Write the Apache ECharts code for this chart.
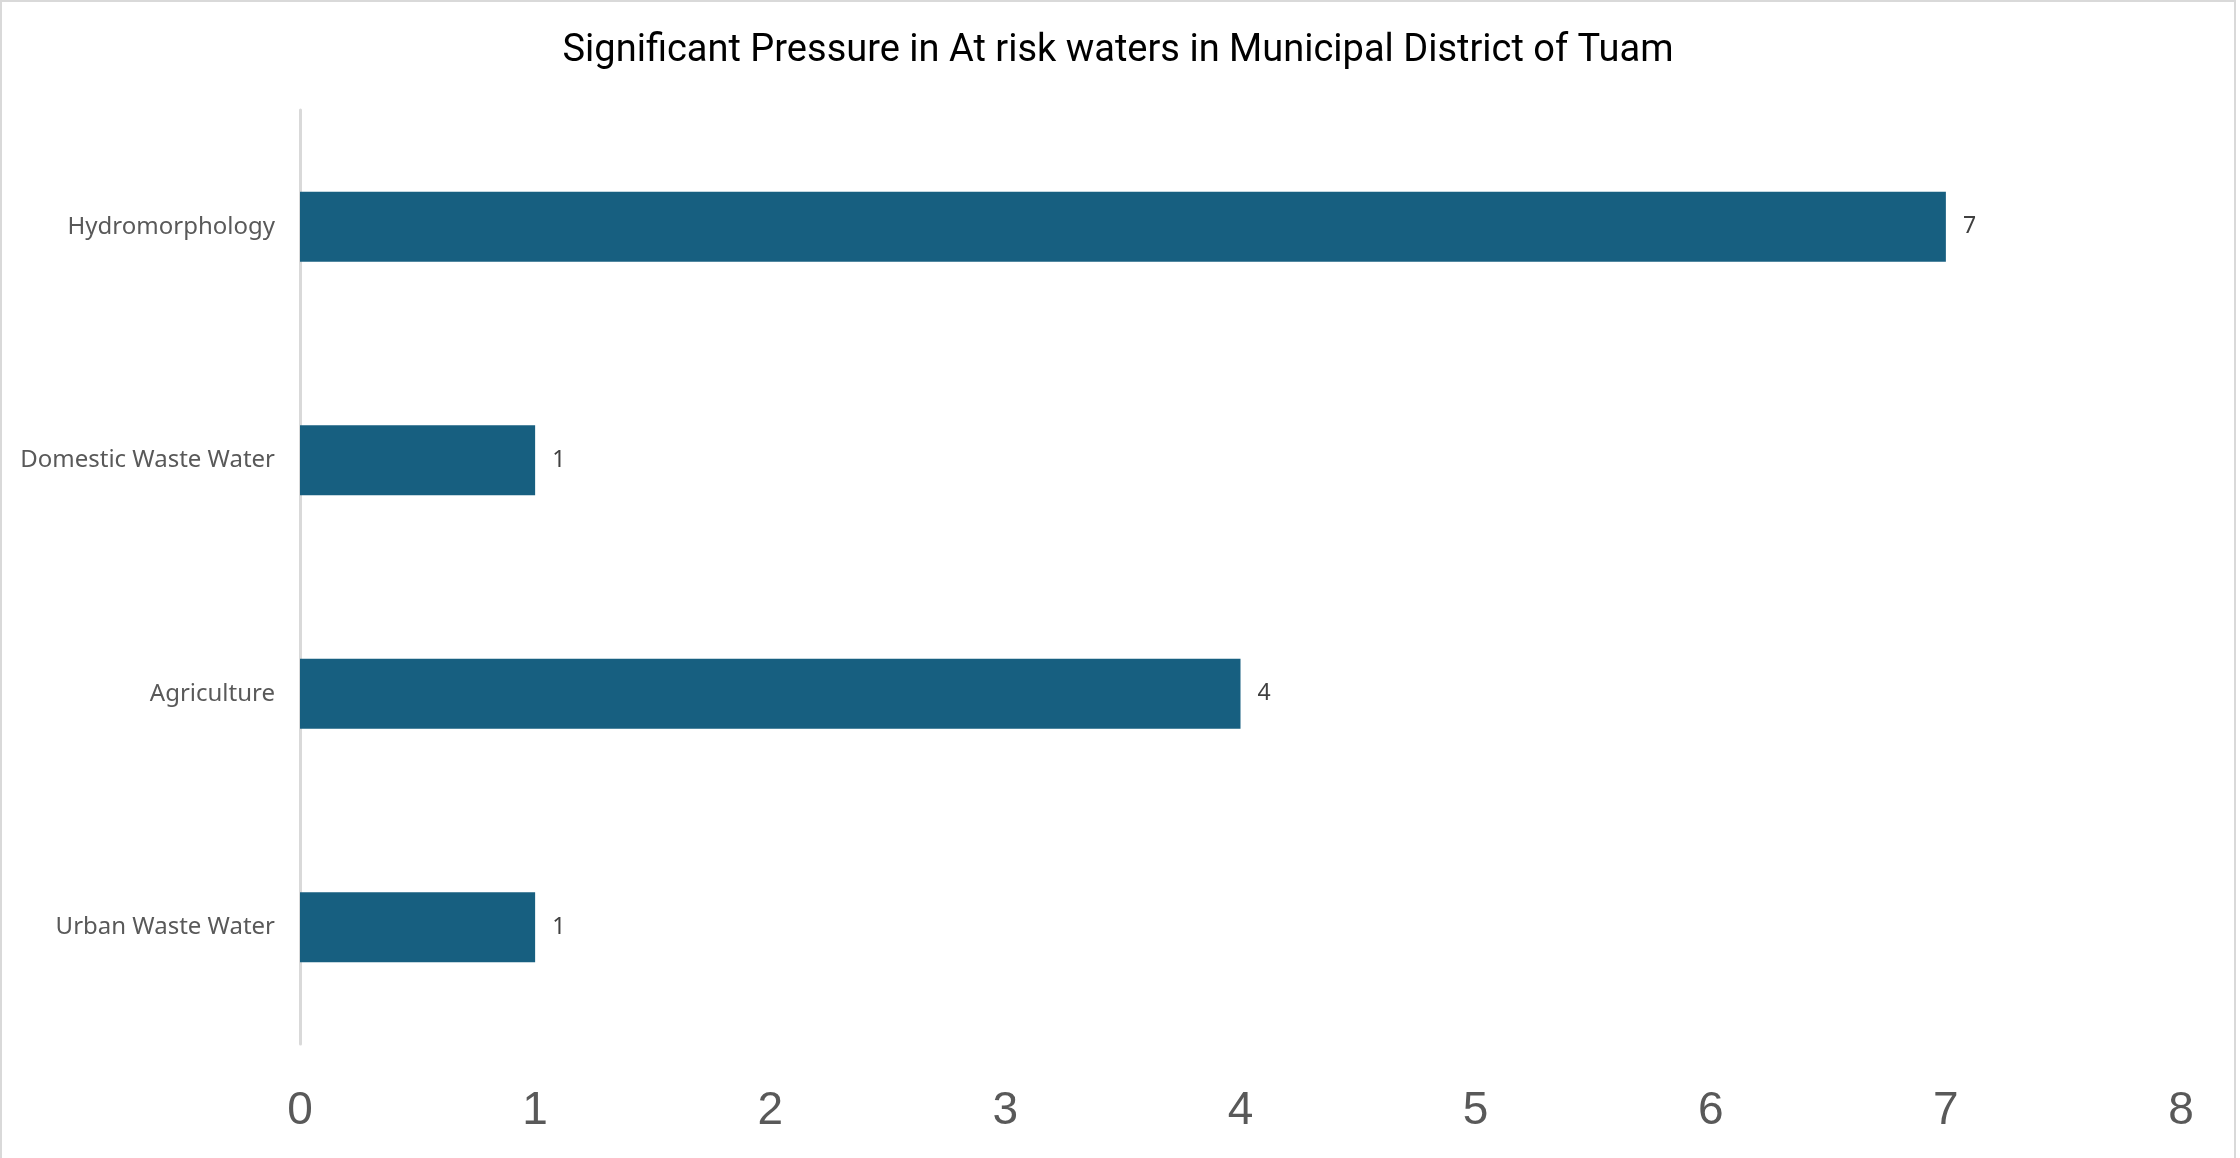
<!DOCTYPE html>
<html>
<head>
<meta charset="utf-8">
<script src="https://cdn.jsdelivr.net/npm/echarts@6/dist/echarts.min.js"></script>
<style>
  html, body { margin: 0; padding: 0; background: #fff; }
  #chart {
    width: 2236px;
    height: 1158px;
    box-sizing: border-box;
    border: 2px solid #d9d9d9;
    border-bottom: none;
  }
</style>
</head>
<body>
<div id="chart"></div>
<script>
// categories listed bottom -> top (category y axis starts at the bottom)
var categories = ["Urban Waste Water", "Agriculture", "Domestic Waste Water", "Hydromorphology"];
var pressureCounts = [1, 4, 1, 7];
var xTicks = [0, 1, 2, 3, 4, 5, 6, 7, 8];

var chart = echarts.init(document.getElementById("chart"));
var option = {
  animation: false,
  title: {
    text: "Significant Pressure in At risk waters in Municipal District of Tuam",
    left: "center",
    top: 25,
    textStyle: {
      fontFamily: "Roboto, sans-serif",
      fontWeight: "normal",
      fontSize: 38,
      color: "#000"
    }
  },
  grid: {
    left: 298,
    right: 53,
    top: 108,
    bottom: 114,
    containLabel: false
  },
  xAxis: {
    type: "value",
    min: xTicks[0],
    max: xTicks[xTicks.length - 1],
    interval: 1,
    axisLine: { show: false },
    axisTick: { show: false },
    splitLine: { show: false },
    axisLabel: {
      color: "#595959",
      fontFamily: "'Liberation Sans', Arial, sans-serif",
      fontSize: 46,
      margin: 44
    }
  },
  yAxis: {
    type: "category",
    data: categories,
    axisLine: { show: true, lineStyle: { color: "#d9d9d9", width: 3 } },
    axisTick: { show: false },
    axisLabel: {
      color: "#595959",
      fontFamily: "'Noto Sans', sans-serif",
      fontSize: 24,
      margin: 25
    }
  },
  series: [
    {
      type: "bar",
      data: pressureCounts,
      barWidth: "30%",
      itemStyle: { color: "#175f80" },
      label: {
        show: true,
        position: "right",
        distance: 17,
        color: "#404040",
        fontFamily: "'Noto Sans', sans-serif",
        fontSize: 23
      }
    }
  ]
};
chart.setOption(option);
</script>
</body>
</html>
